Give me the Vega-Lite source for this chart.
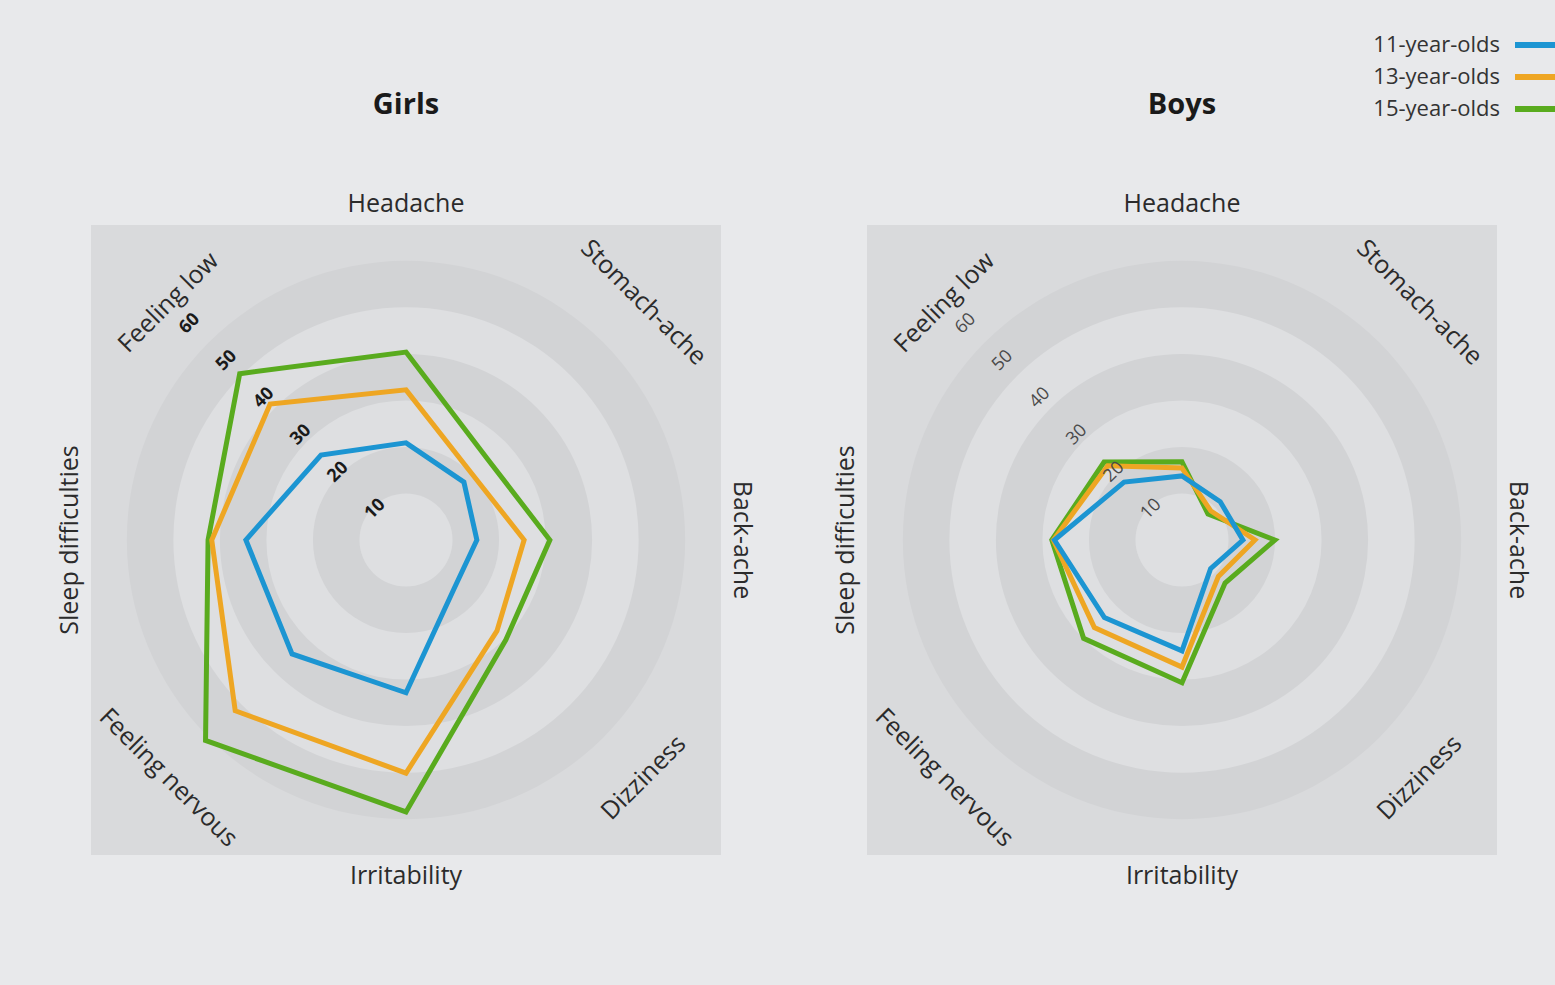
{
  "$schema": "https://vega.github.io/schema/vega-lite/v6.json",
  "background": "#e8e9eb",
  "padding": {"left": 58, "top": 32, "right": 0, "bottom": 110},
  "autosize": {"type": "pad"},
  "bounds": "flush",
  "spacing": 146,
  "config": {"view": {"fill": "#d9dadc", "stroke": null}, "font": "Open Sans"},
  "datasets": {
    "rings": [{"r": 60}, {"r": 50}, {"r": 40}, {"r": 30}, {"r": 20}, {"r": 10}],
    "ticks": [{"tick": 10}, {"tick": 20}, {"tick": 30}, {"tick": 40}, {"tick": 50}, {"tick": 60}],
    "symptoms": [
      {"symptom": "Headache"}, {"symptom": "Stomach-ache"}, {"symptom": "Back-ache"}, {"symptom": "Dizziness"},
      {"symptom": "Irritability"}, {"symptom": "Feeling nervous"}, {"symptom": "Sleep difficulties"}, {"symptom": "Feeling low"}
    ],
    "scores": [
      {"sex": "Girls", "age": "15-year-olds", "symptom": "Headache", "value": 35.8},
      {"sex": "Girls", "age": "15-year-olds", "symptom": "Stomach-ache", "value": 21.9},
      {"sex": "Girls", "age": "15-year-olds", "symptom": "Back-ache", "value": 27.4},
      {"sex": "Girls", "age": "15-year-olds", "symptom": "Dizziness", "value": 26.9},
      {"sex": "Girls", "age": "15-year-olds", "symptom": "Irritability", "value": 51.8},
      {"sex": "Girls", "age": "15-year-olds", "symptom": "Feeling nervous", "value": 54.0},
      {"sex": "Girls", "age": "15-year-olds", "symptom": "Sleep difficulties", "value": 37.7},
      {"sex": "Girls", "age": "15-year-olds", "symptom": "Feeling low", "value": 44.8},
      {"sex": "Girls", "age": "13-year-olds", "symptom": "Headache", "value": 28.6},
      {"sex": "Girls", "age": "13-year-olds", "symptom": "Stomach-ache", "value": 17.8},
      {"sex": "Girls", "age": "13-year-olds", "symptom": "Back-ache", "value": 22.5},
      {"sex": "Girls", "age": "13-year-olds", "symptom": "Dizziness", "value": 24.5},
      {"sex": "Girls", "age": "13-year-olds", "symptom": "Irritability", "value": 44.4},
      {"sex": "Girls", "age": "13-year-olds", "symptom": "Feeling nervous", "value": 46.0},
      {"sex": "Girls", "age": "13-year-olds", "symptom": "Sleep difficulties", "value": 37.0},
      {"sex": "Girls", "age": "13-year-olds", "symptom": "Feeling low", "value": 36.6},
      {"sex": "Girls", "age": "11-year-olds", "symptom": "Headache", "value": 18.5},
      {"sex": "Girls", "age": "11-year-olds", "symptom": "Stomach-ache", "value": 15.6},
      {"sex": "Girls", "age": "11-year-olds", "symptom": "Back-ache", "value": 13.5},
      {"sex": "Girls", "age": "11-year-olds", "symptom": "Dizziness", "value": 13.0},
      {"sex": "Girls", "age": "11-year-olds", "symptom": "Irritability", "value": 29.1},
      {"sex": "Girls", "age": "11-year-olds", "symptom": "Feeling nervous", "value": 30.7},
      {"sex": "Girls", "age": "11-year-olds", "symptom": "Sleep difficulties", "value": 30.5},
      {"sex": "Girls", "age": "11-year-olds", "symptom": "Feeling low", "value": 22.9},
      {"sex": "Boys", "age": "15-year-olds", "symptom": "Headache", "value": 14.9},
      {"sex": "Boys", "age": "15-year-olds", "symptom": "Stomach-ache", "value": 7.0},
      {"sex": "Boys", "age": "15-year-olds", "symptom": "Back-ache", "value": 17.7},
      {"sex": "Boys", "age": "15-year-olds", "symptom": "Dizziness", "value": 11.6},
      {"sex": "Boys", "age": "15-year-olds", "symptom": "Irritability", "value": 27.2},
      {"sex": "Boys", "age": "15-year-olds", "symptom": "Feeling nervous", "value": 26.5},
      {"sex": "Boys", "age": "15-year-olds", "symptom": "Sleep difficulties", "value": 24.8},
      {"sex": "Boys", "age": "15-year-olds", "symptom": "Feeling low", "value": 21.0},
      {"sex": "Boys", "age": "13-year-olds", "symptom": "Headache", "value": 13.7},
      {"sex": "Boys", "age": "13-year-olds", "symptom": "Stomach-ache", "value": 7.8},
      {"sex": "Boys", "age": "13-year-olds", "symptom": "Back-ache", "value": 13.9},
      {"sex": "Boys", "age": "13-year-olds", "symptom": "Dizziness", "value": 9.8},
      {"sex": "Boys", "age": "13-year-olds", "symptom": "Irritability", "value": 24.2},
      {"sex": "Boys", "age": "13-year-olds", "symptom": "Feeling nervous", "value": 23.6},
      {"sex": "Boys", "age": "13-year-olds", "symptom": "Sleep difficulties", "value": 24.5},
      {"sex": "Boys", "age": "13-year-olds", "symptom": "Feeling low", "value": 20.0},
      {"sex": "Boys", "age": "11-year-olds", "symptom": "Headache", "value": 12.2},
      {"sex": "Boys", "age": "11-year-olds", "symptom": "Stomach-ache", "value": 10.3},
      {"sex": "Boys", "age": "11-year-olds", "symptom": "Back-ache", "value": 11.6},
      {"sex": "Boys", "age": "11-year-olds", "symptom": "Dizziness", "value": 7.7},
      {"sex": "Boys", "age": "11-year-olds", "symptom": "Irritability", "value": 21.1},
      {"sex": "Boys", "age": "11-year-olds", "symptom": "Feeling nervous", "value": 20.9},
      {"sex": "Boys", "age": "11-year-olds", "symptom": "Sleep difficulties", "value": 24.3},
      {"sex": "Boys", "age": "11-year-olds", "symptom": "Feeling low", "value": 15.6}
    ]
  },
  "resolve": {"scale": {"color": "shared"}, "legend": {"color": "shared"}},
  "hconcat": [
    {
      "width": 630,
      "height": 630,
      "title": {"text": "Girls", "frame": "group", "anchor": "middle", "baseline": "bottom", "offset": 43, "fontSize": 29, "fontWeight": "bold", "color": "#1a1a1a", "font": "Open Sans"},
      "layer": [
        {
          "data": {"name": "rings"},
          "mark": {"type": "circle", "opacity": 1, "strokeWidth": 0, "clip": false},
          "encoding": {
            "x": {"datum": 0, "type": "quantitative", "scale": {"domain": [-60, 60], "nice": false, "zero": false}, "axis": null},
            "y": {"datum": 0, "type": "quantitative", "scale": {"domain": [-60, 60], "nice": false, "zero": false}, "axis": null},
            "size": {"field": "r", "type": "quantitative", "scale": {"type": "pow", "exponent": 2, "domain": [0, 60], "range": [0, 311725]}, "legend": null},
            "fill": {"field": "r", "type": "ordinal", "scale": {"domain": [10, 20, 30, 40, 50, 60], "range": ["#dedfe1", "#d2d3d5", "#dedfe1", "#d2d3d5", "#dedfe1", "#d2d3d5"]}, "legend": null},
            "order": {"field": "r", "sort": "descending"}
          }
        },
        {
          "data": {"name": "scores"},
          "transform": [
            {"filter": "datum.sex === 'Girls'"},
            {"calculate": "indexof(['Headache','Stomach-ache','Back-ache','Dizziness','Irritability','Feeling nervous','Sleep difficulties','Feeling low'], datum.symptom)", "as": "k"},
            {"calculate": "datum.value * sin(datum.k * PI / 4)", "as": "px"},
            {"calculate": "datum.value * cos(datum.k * PI / 4)", "as": "py"}
          ],
          "mark": {"type": "line", "interpolate": "linear-closed", "strokeWidth": 5, "strokeJoin": "miter", "clip": false},
          "encoding": {
            "x": {"field": "px", "type": "quantitative", "scale": {"domain": [-60, 60], "nice": false, "zero": false}, "axis": null},
            "y": {"field": "py", "type": "quantitative", "scale": {"domain": [-60, 60], "nice": false, "zero": false}, "axis": null},
            "color": {
              "field": "age", "type": "nominal",
              "scale": {"domain": ["11-year-olds", "13-year-olds", "15-year-olds"], "range": ["#1c95d2", "#eea623", "#59ab1e"]},
              "legend": {"orient": "none", "legendX": 1417, "legendY": -193, "title": null, "padding": 0, "symbolType": "M -0.6 0 L 4 0", "symbolSize": 400, "symbolStrokeWidth": 6, "labelFontSize": 22, "labelColor": "#333333", "labelFont": "Open Sans", "labelAlign": "right", "labelOffset": -34, "labelLimit": 400, "rowPadding": 7}
            },
            "order": {"field": "k", "type": "quantitative"}
          }
        },
        {
          "data": {"name": "ticks"},
          "transform": [
            {"calculate": "-datum.tick * sqrt(0.5)", "as": "px"},
            {"calculate": "datum.tick * sqrt(0.5)", "as": "py"}
          ],
          "mark": {"type": "text", "angle": -45, "baseline": "top", "align": "center", "fontSize": 18, "fontWeight": "bold", "color": "#1a1a1a", "clip": false},
          "encoding": {
            "x": {"field": "px", "type": "quantitative", "scale": {"domain": [-60, 60], "nice": false, "zero": false}, "axis": null},
            "y": {"field": "py", "type": "quantitative", "scale": {"domain": [-60, 60], "nice": false, "zero": false}, "axis": null},
            "text": {"field": "tick", "type": "quantitative"}
          }
        },
        {
          "data": {"name": "symptoms"},
          "transform": [
            {"calculate": "indexof(['Headache','Stomach-ache','Back-ache','Dizziness','Irritability','Feeling nervous','Sleep difficulties','Feeling low'], datum.symptom)", "as": "k"},
            {"calculate": "64 * sin(datum.k * PI / 4)", "as": "px"},
            {"calculate": "64 * cos(datum.k * PI / 4)", "as": "py"},
            {"calculate": "datum.k * 45 <= 90 ? datum.k * 45 : (datum.k * 45 < 270 ? datum.k * 45 - 180 : datum.k * 45 - 360)", "as": "rot"}
          ],
          "mark": {"type": "text", "baseline": "middle", "align": "center", "fontSize": 25, "color": "#2b2b2b", "clip": false},
          "encoding": {
            "x": {"field": "px", "type": "quantitative", "scale": {"domain": [-60, 60], "nice": false, "zero": false}, "axis": null},
            "y": {"field": "py", "type": "quantitative", "scale": {"domain": [-60, 60], "nice": false, "zero": false}, "axis": null},
            "angle": {"field": "rot", "type": "quantitative", "scale": null},
            "text": {"field": "symptom", "type": "nominal"}
          }
        }
      ]
    },
    {
      "width": 630,
      "height": 630,
      "title": {"text": "Boys", "frame": "group", "anchor": "middle", "baseline": "bottom", "offset": 43, "fontSize": 29, "fontWeight": "bold", "color": "#1a1a1a", "font": "Open Sans"},
      "layer": [
        {
          "data": {"name": "rings"},
          "mark": {"type": "circle", "opacity": 1, "strokeWidth": 0, "clip": false},
          "encoding": {
            "x": {"datum": 0, "type": "quantitative", "scale": {"domain": [-60, 60], "nice": false, "zero": false}, "axis": null},
            "y": {"datum": 0, "type": "quantitative", "scale": {"domain": [-60, 60], "nice": false, "zero": false}, "axis": null},
            "size": {"field": "r", "type": "quantitative", "scale": {"type": "pow", "exponent": 2, "domain": [0, 60], "range": [0, 311725]}, "legend": null},
            "fill": {"field": "r", "type": "ordinal", "scale": {"domain": [10, 20, 30, 40, 50, 60], "range": ["#dedfe1", "#d2d3d5", "#dedfe1", "#d2d3d5", "#dedfe1", "#d2d3d5"]}, "legend": null},
            "order": {"field": "r", "sort": "descending"}
          }
        },
        {
          "data": {"name": "scores"},
          "transform": [
            {"filter": "datum.sex === 'Boys'"},
            {"calculate": "indexof(['Headache','Stomach-ache','Back-ache','Dizziness','Irritability','Feeling nervous','Sleep difficulties','Feeling low'], datum.symptom)", "as": "k"},
            {"calculate": "datum.value * sin(datum.k * PI / 4)", "as": "px"},
            {"calculate": "datum.value * cos(datum.k * PI / 4)", "as": "py"}
          ],
          "mark": {"type": "line", "interpolate": "linear-closed", "strokeWidth": 5, "strokeJoin": "miter", "clip": false},
          "encoding": {
            "x": {"field": "px", "type": "quantitative", "scale": {"domain": [-60, 60], "nice": false, "zero": false}, "axis": null},
            "y": {"field": "py", "type": "quantitative", "scale": {"domain": [-60, 60], "nice": false, "zero": false}, "axis": null},
            "color": {
              "field": "age", "type": "nominal",
              "scale": {"domain": ["11-year-olds", "13-year-olds", "15-year-olds"], "range": ["#1c95d2", "#eea623", "#59ab1e"]},
              "legend": {"orient": "none", "legendX": 1417, "legendY": -193, "title": null, "padding": 0, "symbolType": "M -0.6 0 L 4 0", "symbolSize": 400, "symbolStrokeWidth": 6, "labelFontSize": 22, "labelColor": "#333333", "labelFont": "Open Sans", "labelAlign": "right", "labelOffset": -34, "labelLimit": 400, "rowPadding": 7}
            },
            "order": {"field": "k", "type": "quantitative"}
          }
        },
        {
          "data": {"name": "ticks"},
          "transform": [
            {"calculate": "-datum.tick * sqrt(0.5)", "as": "px"},
            {"calculate": "datum.tick * sqrt(0.5)", "as": "py"}
          ],
          "mark": {"type": "text", "angle": -45, "baseline": "top", "align": "center", "fontSize": 18, "color": "#4a4a4a", "clip": false},
          "encoding": {
            "x": {"field": "px", "type": "quantitative", "scale": {"domain": [-60, 60], "nice": false, "zero": false}, "axis": null},
            "y": {"field": "py", "type": "quantitative", "scale": {"domain": [-60, 60], "nice": false, "zero": false}, "axis": null},
            "text": {"field": "tick", "type": "quantitative"}
          }
        },
        {
          "data": {"name": "symptoms"},
          "transform": [
            {"calculate": "indexof(['Headache','Stomach-ache','Back-ache','Dizziness','Irritability','Feeling nervous','Sleep difficulties','Feeling low'], datum.symptom)", "as": "k"},
            {"calculate": "64 * sin(datum.k * PI / 4)", "as": "px"},
            {"calculate": "64 * cos(datum.k * PI / 4)", "as": "py"},
            {"calculate": "datum.k * 45 <= 90 ? datum.k * 45 : (datum.k * 45 < 270 ? datum.k * 45 - 180 : datum.k * 45 - 360)", "as": "rot"}
          ],
          "mark": {"type": "text", "baseline": "middle", "align": "center", "fontSize": 25, "color": "#2b2b2b", "clip": false},
          "encoding": {
            "x": {"field": "px", "type": "quantitative", "scale": {"domain": [-60, 60], "nice": false, "zero": false}, "axis": null},
            "y": {"field": "py", "type": "quantitative", "scale": {"domain": [-60, 60], "nice": false, "zero": false}, "axis": null},
            "angle": {"field": "rot", "type": "quantitative", "scale": null},
            "text": {"field": "symptom", "type": "nominal"}
          }
        }
      ]
    }
  ]
}
